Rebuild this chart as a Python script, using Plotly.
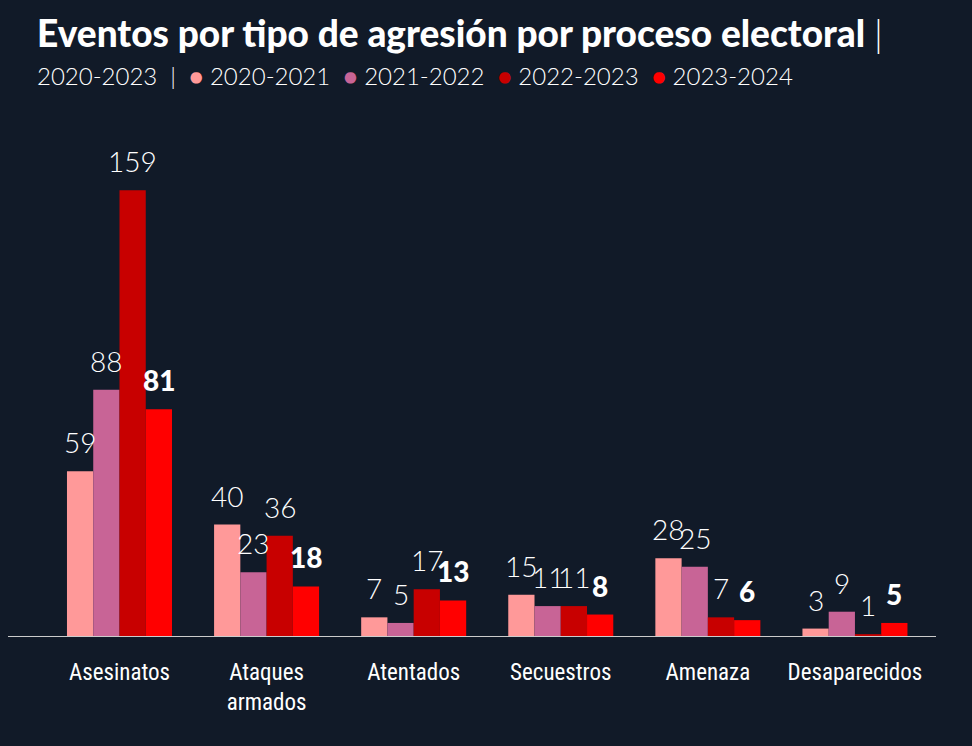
import plotly.graph_objects as go

categories = ["Asesinatos", "Ataques<br>armados", "Atentados", "Secuestros", "Amenaza", "Desaparecidos"]
series_names = ["2020-2021", "2021-2022", "2022-2023", "2023-2024"]
v_2020_2021 = [59, 40, 7, 15, 28, 3]
v_2021_2022 = [88, 23, 5, 11, 25, 9]
v_2022_2023 = [159, 36, 17, 11, 7, 1]
v_2023_2024 = [81, 18, 13, 8, 6, 5]
series_values = [v_2020_2021, v_2021_2022, v_2022_2023, v_2023_2024]
colors = ["#ff9999", "#c86496", "#c80000", "#ff0000"]

BG = "#111a28"
num_font = "Lato Light, Lato, sans-serif"
BARGAP = 0.286
n_series = len(series_names)
bar_w = (1 - BARGAP) / n_series

fig = go.Figure()
x_idx = list(range(len(categories)))
for j, (name, vals, col) in enumerate(zip(series_names, series_values, colors)):
    last = j == n_series - 1
    offset = (j - n_series / 2) * bar_w
    fig.add_trace(go.Bar(
        x=x_idx, y=vals, name=name, width=bar_w, offset=offset,
        marker=dict(color=col, line=dict(width=0)),
        hoverinfo="skip", showlegend=False,
    ))
    for i, v in enumerate(vals):
        fig.add_annotation(
            x=i + offset + bar_w / 2, y=v, xref="x", yref="y",
            text=str(v), showarrow=False, xanchor="center", yanchor="bottom", yshift=10,
            font=dict(family=("Lato" if last else num_font), size=28, color="#ffffff",
                      weight=(900 if last else 300)),
        )

fig.update_layout(
    width=972, height=746,
    paper_bgcolor=BG, plot_bgcolor=BG,
    margin=dict(l=8, r=36, t=130, b=109),
    barmode="overlay",
    xaxis=dict(
        range=[-0.758, 5.551], tickmode="array", tickvals=x_idx, ticktext=categories,
        showgrid=False, zeroline=False, showline=False, ticks="", ticklabelstandoff=19,
        tickfont=dict(family="Roboto Condensed, sans-serif", size=23, color="white"),
    ),
    yaxis=dict(range=[0, 180.4], visible=False, showgrid=False, zeroline=False),
    shapes=[dict(type="line", xref="paper", yref="y", x0=0, x1=1, y0=0, y1=0,
                 line=dict(color="#cccccc", width=2))],
)

legend_txt = "2020-2023  |  " + "  ".join(
    f"<span style='color:{c}'>●</span> {n}" for n, c in zip(series_names, colors))

fig.add_annotation(
    xref="paper", yref="paper", x=(35 - 8) / 928, y=(637 - 33) / 507,
    xanchor="left", yanchor="middle", showarrow=False,
    text="Eventos por tipo de agresión por proceso electoral <span style='font-weight:300'>|</span>",
    font=dict(family="Lato", size=37, color="white", weight=900),
)
fig.add_annotation(
    xref="paper", yref="paper", x=(35 - 8) / 928, y=(637 - 76) / 507,
    xanchor="left", yanchor="middle", showarrow=False,
    text=legend_txt,
    font=dict(family=num_font, size=24, color="white", weight=300),
)

fig.write_html("out.html", config={"displayModeBar": False},
               post_script="document.body.style.margin='0';document.body.style.overflow='hidden';")
